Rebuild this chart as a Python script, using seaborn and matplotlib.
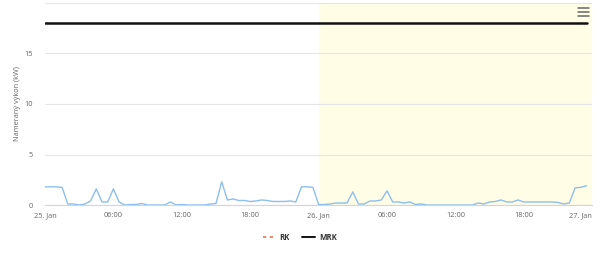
import numpy as np
import pandas as pd
import matplotlib
matplotlib.use("Agg")
import matplotlib.pyplot as plt
from matplotlib.lines import Line2D
import seaborn as sns

# ---- data ----
hours = [i * 0.5 for i in range(96)]  # 25 Jan 00:00 .. 26 Jan 23:30, 30-min steps
power_kw = [
    # 25 Jan
    1.8, 1.8, 1.8, 1.75, 0.1, 0.1, 0.0, 0.1, 0.4, 1.6, 0.3, 0.3,
    1.6, 0.3, 0.0, 0.05, 0.05, 0.15, 0.0, 0.0, 0.0, 0.0, 0.3, 0.0,
    0.05, 0.0, 0.0, 0.0, 0.0, 0.1, 0.15, 2.3, 0.5, 0.6, 0.45, 0.45,
    0.35, 0.4, 0.5, 0.45, 0.35, 0.35, 0.35, 0.4, 0.3, 1.8, 1.8, 1.75,
    # 26 Jan
    0.05, 0.05, 0.1, 0.2, 0.2, 0.2, 1.3, 0.1, 0.1, 0.4, 0.4, 0.5,
    1.4, 0.3, 0.3, 0.2, 0.3, 0.05, 0.1, 0.0, 0.0, 0.0, 0.0, 0.0,
    0.0, 0.0, 0.0, 0.0, 0.2, 0.1, 0.3, 0.35, 0.5, 0.3, 0.3, 0.5,
    0.3, 0.3, 0.3, 0.3, 0.3, 0.3, 0.25, 0.1, 0.2, 1.7, 1.75, 1.9,
]
mrk_value = 18
tick_hours = [0, 6, 12, 18, 24, 30, 36, 42, 48]
tick_labels = ["25. Jan", "06:00", "12:00", "18:00", "26. Jan",
               "06:00", "12:00", "18:00", "27. Jan"]
y_ticks = [0, 5, 10, 15]
band_start, band_end = 24, 48
legend_names = ["RK", "MRK"]

df = pd.DataFrame({"hour": hours, "power": power_kw})
df_mrk = pd.DataFrame({"hour": hours, "mrk": [mrk_value] * len(hours)})

sns.set_style("white")
plt.rcParams["font.family"] = ["Open Sans", "DejaVu Sans"]

fig = plt.figure(figsize=(6.0, 2.68), dpi=100)
ax = fig.add_axes([0.075, 0.235, 0.912, 0.754])

ax.axvspan(band_start, band_end, color="#fffde5", zorder=0, lw=0)
for v in [0, 5, 10, 15, 20]:
    ax.axhline(v, color="#e6e6e6", lw=0.8, zorder=1)

sns.lineplot(data=df, x="hour", y="power", ax=ax, color="#8cbfee", lw=1.0, zorder=3)
sns.lineplot(data=df_mrk, x="hour", y="mrk", ax=ax, color="#111111", lw=1.8, zorder=4)

ax.set_xlim(0, 48)
ax.set_ylim(0, 20)
ax.set_xticks(tick_hours)
ax.set_xticklabels(tick_labels, fontsize=5.3, color="#666666")
ax.set_yticks(y_ticks)
ax.set_yticklabels([str(t) for t in y_ticks], fontsize=5.3, color="#666666")
ax.set_xlabel("")
ax.set_ylabel("Nameraný výkon (kW)", fontsize=5.3, color="#666666", labelpad=2)
for s in ["top", "right", "left"]:
    ax.spines[s].set_visible(False)
ax.spines["bottom"].set_color("#ccd6eb")
ax.spines["bottom"].set_linewidth(0.8)
ax.tick_params(axis="x", length=3, width=0.8, color="#ccd6eb", pad=2)
ax.tick_params(axis="y", length=0, pad=9)
labs = ax.get_xticklabels()
labs[-1].set_horizontalalignment("right")

handles = [Line2D([], [], color="#e8734f", lw=1.2, ls=(0, (2, 2))),
           Line2D([], [], color="#111111", lw=1.4)]
leg = fig.legend(handles, legend_names, loc="center", bbox_to_anchor=(0.5, 0.115),
                 ncol=2, frameon=False, handlelength=1.6, handletextpad=0.5,
                 columnspacing=1.6, prop={"size": 5.6, "weight": "bold"})
for t in leg.get_texts():
    t.set_color("#333333")

# menu icon
for yy in [0.97, 0.955, 0.94]:
    fig.add_artist(Line2D([0.964, 0.981], [yy, yy], color="#666666", lw=1.1))

fig.savefig("out.png", dpi=100, facecolor="white")
